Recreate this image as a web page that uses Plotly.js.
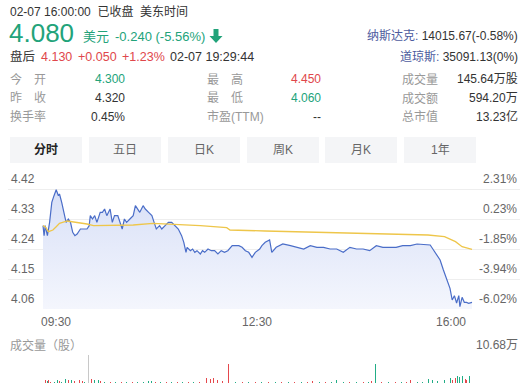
<!DOCTYPE html>
<html><head><meta charset="utf-8">
<script src="https://cdn.plot.ly/plotly-3.0.1.min.js"></script>
<style>html,body{margin:0;padding:0;background:#fff;}#c{width:530px;height:391px;}</style>
</head><body><div id="c"></div>
<script>
// ---- price minute line (minutes after 09:30) ----
const times = [0,1,2,4,6,8,10,12,14,15,17,19,21,23,25,27,29,31,34,37,40,42,43,45,47,49,52,54,56,58,61,63,65,68,70,72,74,76,79,82,84,86,88,91,93,96,99,101,103,106,108,111,114,117,120,123,126,128,130,131,134,136,138,140,143,145,147,150,153,156,159,162,165,168,172,175,178,181,184,187,190,193,197,199,202,206,208,212,218,225,231,237,243,249,255,261,267,273,279,285,291,297,303,309,315,321,327,334,340,347,352,355,358,361,364,367,370,372,374,376,378,379,381,383,385,387,390];
const prices = [4.31,4.28,4.31,4.28,4.32,4.38,4.40,4.418,4.40,4.405,4.38,4.35,4.32,4.33,4.32,4.29,4.28,4.285,4.30,4.30,4.30,4.31,4.34,4.33,4.34,4.32,4.35,4.35,4.36,4.34,4.36,4.32,4.34,4.34,4.32,4.30,4.33,4.32,4.33,4.34,4.37,4.36,4.35,4.37,4.36,4.35,4.34,4.32,4.30,4.31,4.30,4.31,4.32,4.32,4.31,4.30,4.28,4.26,4.23,4.245,4.235,4.24,4.23,4.235,4.225,4.235,4.23,4.24,4.235,4.235,4.225,4.235,4.23,4.235,4.25,4.25,4.25,4.245,4.235,4.23,4.215,4.23,4.24,4.25,4.26,4.267,4.23,4.245,4.255,4.25,4.245,4.24,4.25,4.245,4.245,4.24,4.24,4.23,4.245,4.24,4.24,4.235,4.25,4.245,4.245,4.245,4.25,4.25,4.255,4.254,4.252,4.237,4.222,4.207,4.177,4.152,4.122,4.087,4.10,4.078,4.10,4.067,4.095,4.08,4.08,4.077,4.08];
// ---- average price line ----
const avgTimes = [0,2,5,9,12,15,22,31,40,46,67,82,100,118,143,167,170,202,232,278,308,350,365,375,381,390];
const avgPrices = [4.31,4.307,4.292,4.297,4.307,4.317,4.324,4.32,4.315,4.31,4.31,4.312,4.317,4.315,4.31,4.304,4.297,4.294,4.292,4.287,4.285,4.282,4.277,4.262,4.247,4.239];
// ---- volume (shares) ----
const volTimes = [0,2,4,5,7,10,13,15,17,20,23,26,29,33,36,38,41,44,47,50,52,56,61,66,71,76,81,86,91,96,99,102,107,112,117,122,127,132,137,142,149,152,155,159,163,169,175,181,187,193,199,205,211,217,223,229,235,240,245,251,257,262,267,273,279,285,291,296,299,302,308,314,320,326,330,334,340,345,350,354,359,365,370,372,375,377,379,381,384,385,388];
const volValues = [15000,11000,7600,11000,3800,3800,11400,7600,3800,15000,11400,11400,7600,11400,7600,3800,106800,15000,11400,11400,7600,3800,3000,3800,3000,3800,3000,3800,3000,7000,7000,3800,3000,3800,3000,3800,3000,3800,3000,3800,19000,15000,19000,11400,7600,72500,3000,3800,3000,3800,3000,3800,3000,3800,3000,3800,3000,3800,7600,3000,3800,3000,11400,3000,3800,3000,3800,3000,7600,72500,3800,3000,3800,3000,3800,11400,3800,3000,15000,11400,7600,11400,19000,11400,19000,26700,23000,26700,15000,11400,26700];
const volDirs = ['d','u','d','u','u','d','d','u','d','d','u','d','u','u','u','d','f','u','d','d','u','d','u','d','u','d','u','d','d','d','d','u','d','u','d','u','d','u','d','u','u','u','u','u','u','u','d','u','d','u','d','u','d','u','d','u','d','u','u','d','u','d','d','d','u','d','u','d','u','d','u','d','u','d','u','u','d','d','d','d','d','d','d','u','u','d','d','d','u','u','d'];
const volMaxLabel = '10.68万';
// ---- axis labels ----
const priceTicks = [4.42,4.33,4.24,4.15,4.06];
const pctTicks = ['2.31%','0.23%','-1.85%','-3.94%','-6.02%'];
const timeLabels = ['09:30','12:30','16:00'];
const tabs = ['分时','五日','日K','周K','月K','1年'];
// ---- header texts ----
const quoteTime = '02-07 16:00:00  已收盘  美东时间';
const lastPrice = '4.080', currency = '美元', change = '-0.240 (-5.56%)';
const afterHours = ['盘后','4.130','+0.050','+1.23%','02-07 19:29:44'];
const indexNames = ['纳斯达克:','道琼斯:'], indexValues = ['14015.67(-0.58%)','35091.13(0%)'];
const col1Labels = ['今　开','昨　收','换手率'], col1Values = ['4.300','4.320','0.45%'];
const col2Labels = ['最　高','最　低','市盈(TTM)'], col2Values = ['4.450','4.060','--'];
const col3Labels = ['成交量','成交额','总市值'], col3Values = ['145.64万股','594.20万','13.23亿'];

const W = 530, H = 391;
const GREEN = '#22a37a', RED = '#e0474b', DARK = '#333333', GREY = '#999999', AX = '#666666';
const FONT = 'Liberation Sans, Arial, Noto Sans CJK SC, sans-serif';
const px = x => x / W, py = y => 1 - y / H;

const ann = [];
function A(text, x, y, o) {
  o = o || {};
  ann.push({text: text, xref: 'paper', yref: 'paper', x: px(x), y: py(y),
    xanchor: o.xa || 'left', yanchor: 'middle', showarrow: false, borderpad: 0,
    font: {family: FONT, size: o.size || 12, color: o.color || DARK, weight: o.weight || 'normal'}});
}
A(quoteTime, 9, 11, {color: DARK});
A(lastPrice, 8, 33, {size: 26, color: GREEN});
A(currency, 82, 36, {size: 13, color: GREEN});
A(change, 114, 36, {size: 13, color: GREEN});
const ahX = [9, 40, 77, 121, 169], ahC = [DARK, RED, RED, RED, DARK];
afterHours.forEach((t, i) => A(t, ahX[i], 57, {color: ahC[i], size: 12.5}));
A('<span style="color:#4d5b9e">' + indexNames[0] + '</span> ' + indexValues[0], 519, 36, {xa: 'right'});
A('<span style="color:#4d5b9e">' + indexNames[1] + '</span> ' + indexValues[1], 519, 56, {xa: 'right'});
const rowY = [79, 98, 117];
const c1c = [GREEN, DARK, DARK], c2c = [RED, GREEN, DARK];
rowY.forEach((y, i) => {
  A(col1Labels[i], 9, y, {color: GREY});
  A(col1Values[i], 126, y, {xa: 'right', color: c1c[i]});
  A(col2Labels[i], 206, y, {color: GREY});
  A(col2Values[i], 322, y, {xa: 'right', color: c2c[i]});
  A(col3Labels[i], 401, y, {color: GREY});
  A(col3Values[i], 519, y, {xa: 'right', color: DARK});
});
const tabX = [10, 89, 168, 247, 325, 404], tabW = 72;
const shapes = [];
tabs.forEach((t, i) => {
  shapes.push({type: 'rect', xref: 'paper', yref: 'paper', x0: px(tabX[i]), x1: px(tabX[i] + tabW),
    y0: py(163), y1: py(137), fillcolor: '#f4f5f7', line: {width: 0}, layer: 'below'});
  A(t, tabX[i] + tabW / 2, 150, {xa: 'center', color: i === 0 ? '#222' : '#666', weight: i === 0 ? 'bold' : 'normal'});
});
// down arrow
shapes.push({type: 'path', xref: 'paper', yref: 'paper', fillcolor: GREEN, line: {width: 0},
  path: `M ${px(213.5)} ${py(29)} L ${px(218.5)} ${py(29)} L ${px(218.5)} ${py(36)} L ${px(222.5)} ${py(36)} L ${px(216)} ${py(43)} L ${px(209.5)} ${py(36)} L ${px(213.5)} ${py(36)} Z`});
// y tick labels above grid lines
priceTicks.forEach((v, i) => {
  ann.push({text: String(v.toFixed(2)), xref: 'paper', yref: 'y', x: px(9), y: v, yshift: 10,
    xanchor: 'left', yanchor: 'middle', showarrow: false, font: {family: FONT, size: 12, color: AX}});
  ann.push({text: pctTicks[i], xref: 'paper', yref: 'y', x: px(519), y: v, yshift: 10,
    xanchor: 'right', yanchor: 'middle', showarrow: false, font: {family: FONT, size: 12, color: AX}});
});
const tlX = [56, 257, 451];
timeLabels.forEach((t, i) => A(t, tlX[i], 322, {xa: 'center', color: AX}));
A('成交量（股）', 9, 345, {color: GREY});
A(volMaxLabel, 519, 345, {xa: 'right', color: AX});

const perMin = 429 / 390;
const xr = [-(43 - 8) / perMin, 390 + (520 - 472) / perMin];
const pPerUnit = 120 / 0.36;
const yr = [4.06, 4.42 + 9 / pPerUnit];
const vr = [0, 106800 * 33 / 28];
const colMap = {u: '#e5484d', d: '#22ad86', f: '#c8c8c8'};

const data = [
  {x: times, y: prices, type: 'scatter', mode: 'lines', line: {color: '#4a6dc8', width: 1.2},
   fill: 'tozeroy', fillgradient: {type: 'vertical', start: 4.06, stop: 4.42,
     colorscale: [[0, 'rgba(244,246,253,1)'], [1, 'rgba(216,224,247,1)']]},
   xaxis: 'x', yaxis: 'y', hoverinfo: 'skip'},
  {x: avgTimes, y: avgPrices, type: 'scatter', mode: 'lines', line: {color: '#eec64a', width: 1.3},
   xaxis: 'x', yaxis: 'y', hoverinfo: 'skip'},
  {x: volTimes, y: volValues, type: 'bar', width: 0.9, marker: {color: volDirs.map(d => colMap[d]), line: {width: 0}},
   xaxis: 'x2', yaxis: 'y2', hoverinfo: 'skip'}
];
const layout = {
  width: W, height: H, margin: {l: 0, r: 0, t: 0, b: 0, pad: 0},
  paper_bgcolor: '#fff', plot_bgcolor: 'rgba(0,0,0,0)', showlegend: false, hovermode: false,
  xaxis: {domain: [8 / W, 520 / W], range: xr, showgrid: false, zeroline: false, showticklabels: false, anchor: 'y'},
  yaxis: {domain: [py(309), py(180)], range: yr, tickvals: priceTicks, showticklabels: false,
    gridcolor: '#eeeeee', gridwidth: 1, zeroline: false, anchor: 'x'},
  xaxis2: {domain: [8 / W, 520 / W], range: xr, showgrid: false, zeroline: false, showticklabels: false, anchor: 'y2'},
  yaxis2: {domain: [py(383), py(350)], range: vr, tickvals: [0], showticklabels: false,
    gridcolor: '#e8e8e8', zeroline: false, anchor: 'x2'},
  bargap: 0,
  annotations: ann, shapes: shapes
};
Plotly.newPlot('c', data, layout, {staticPlot: true, displayModeBar: false});
</script></body></html>
